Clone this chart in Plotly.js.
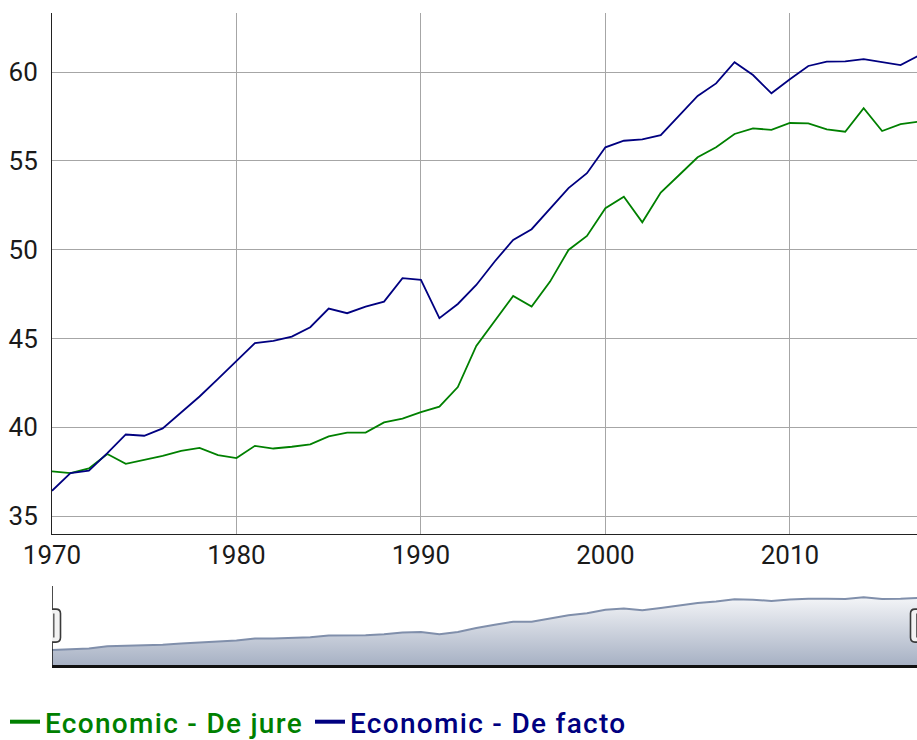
<!DOCTYPE html>
<html>
<head>
<meta charset="utf-8">
<script src="https://cdn.plot.ly/plotly-3.0.1.min.js"></script>
<style>
  html, body { margin: 0; padding: 0; overflow: hidden; background: #fff; }
  #chart { width: 924px; height: 740px; }
  #chart .legend .legendlines path { stroke-width: 4px !important; }
  #chart .legend .legendtext { letter-spacing: 1.3px; }
  #chart .legend .scrollbox { clip-path: none !important; }
</style>
</head>
<body>
<div id="chart"></div>
<script>
const years = [1970,1971,1972,1973,1974,1975,1976,1977,1978,1979,
               1980,1981,1982,1983,1984,1985,1986,1987,1988,1989,
               1990,1991,1992,1993,1994,1995,1996,1997,1998,1999,
               2000,2001,2002,2003,2004,2005,2006,2007,2008,2009,
               2010,2011,2012,2013,2014,2015,2016,2017];

const deJure = [37.51,37.42,37.68,38.49,37.94,38.17,38.39,38.67,38.84,38.43,
                38.26,38.95,38.80,38.90,39.03,39.48,39.70,39.70,40.27,40.49,
                40.85,41.16,42.26,44.58,45.95,47.39,46.79,48.20,49.98,50.77,
                52.33,52.98,51.54,53.21,54.20,55.20,55.76,56.51,56.83,56.74,
                57.13,57.11,56.77,56.64,57.96,56.68,57.06,57.21];

const deFacto = [36.42,37.42,37.56,38.54,39.59,39.52,39.93,40.85,41.73,42.72,
                 43.70,44.73,44.86,45.10,45.63,46.68,46.42,46.79,47.07,48.39,
                 48.30,46.14,46.94,48.01,49.33,50.55,51.15,52.33,53.46,54.30,
                 55.76,56.13,56.21,56.45,57.58,58.65,59.36,60.55,59.83,58.80,
                 59.59,60.34,60.58,60.60,60.73,60.58,60.39,60.93];

const seriesNames = ['Economic - De jure', 'Economic - De facto'];
const tickYears = [1970, 1980, 1990, 2000, 2010];
const tickValues = [35, 40, 45, 50, 55, 60];

// range-selector overview: mean of the series at each year (as the original widget does)
const overview = years.map((y, i) => (deJure[i] + deFacto[i]) / 2);

const GREEN = '#008000';
const NAVY = '#000080';
const FONT = 'Roboto, "DejaVu Sans", sans-serif';

const traces = [
  {
    x: years, y: deJure, type: 'scatter', mode: 'lines',
    name: '<span style="color:' + GREEN + '">' + seriesNames[0] + '</span>',
    line: { color: GREEN, width: 1.8 },
    xaxis: 'x', yaxis: 'y', hoverinfo: 'skip'
  },
  {
    x: years, y: deFacto, type: 'scatter', mode: 'lines',
    name: '<span style="color:' + NAVY + '">' + seriesNames[1] + '</span>',
    line: { color: NAVY, width: 1.8 },
    xaxis: 'x', yaxis: 'y', hoverinfo: 'skip'
  },
  {
    x: years, y: overview, type: 'scatter', mode: 'lines',
    showlegend: false,
    line: { color: '#808FAB', width: 2 },
    fill: 'tozeroy',
    fillcolor: '#c9cfdc',
    fillgradient: {
      type: 'vertical',
      start: 30.6, stop: 63.7,
      colorscale: [[0, '#A7B1C4'], [1, '#ffffff']]
    },
    xaxis: 'x2', yaxis: 'y2', hoverinfo: 'skip'
  }
];

const Y_HANDLE = (740 - 625.6) / 740;
const handlePath = 'M -4,-16.5 L 4,-16.5 Q 8.5,-16.5 8.5,-12 L 8.5,12 Q 8.5,16.5 4,16.5 L -4,16.5 Q -8.5,16.5 -8.5,12 L -8.5,-12 Q -8.5,-16.5 -4,-16.5 Z';
const gripPath = 'M -2.2,-12 L -2.2,12 M 1.8,-12 L 1.8,12';

function handleShapes(xv) {
  return [
    { type: 'line', xref: 'x2', yref: 'paper', x0: xv, x1: xv,
      y0: (740 - 666) / 740, y1: (740 - 586) / 740,
      line: { color: '#111', width: 1.5 } },
    { type: 'path', xref: 'x2', yref: 'paper', xsizemode: 'pixel', ysizemode: 'pixel',
      xanchor: xv, yanchor: Y_HANDLE, path: handlePath,
      fillcolor: '#f2f2f2', line: { color: '#3a3a3a', width: 1.6 } },
    { type: 'path', xref: 'x2', yref: 'paper', xsizemode: 'pixel', ysizemode: 'pixel',
      xanchor: xv, yanchor: Y_HANDLE, path: gripPath,
      line: { color: '#555', width: 1.4 } }
  ];
}

const layout = {
  width: 924, height: 740,
  margin: { l: 52, r: 5, t: 0, b: 0, autoexpand: false },
  paper_bgcolor: '#ffffff', plot_bgcolor: '#ffffff',
  font: { family: FONT, size: 26, color: '#1a1a1a' },
  showlegend: true,
  hovermode: false,
  xaxis: {
    domain: [0, 1], anchor: 'y',
    range: [years[0], years[years.length - 1]],
    tickvals: tickYears, ticktext: tickYears.map(String),
    showgrid: true, gridcolor: '#a6a6a6', gridwidth: 1,
    showline: true, linecolor: '#222', linewidth: 1,
    zeroline: false, ticks: '', ticklabelstandoff: -3,
    automargin: false,
    tickfont: { family: FONT, size: 26, color: '#1a1a1a' }
  },
  yaxis: {
    domain: [(740 - 534.3) / 740, (740 - 12.7) / 740], anchor: 'x',
    range: [33.97, 63.34],
    tickvals: tickValues, ticktext: tickValues.map(String),
    showgrid: true, gridcolor: '#a6a6a6', gridwidth: 1,
    showline: true, linecolor: '#222', linewidth: 1,
    zeroline: false, ticks: '', ticklabelstandoff: 8,
    automargin: false,
    tickfont: { family: FONT, size: 26, color: '#1a1a1a' }
  },
  xaxis2: {
    domain: [0, 1], anchor: 'y2',
    range: [years[0], years[years.length - 1]],
    showticklabels: false, showgrid: false, zeroline: false,
    showline: true, linecolor: '#111', linewidth: 2.5, ticks: '',
    automargin: false
  },
  yaxis2: {
    domain: [(740 - 665) / 740, (740 - 587) / 740], anchor: 'x2',
    range: [30.6, 63.7], visible: false
  },
  legend: {
    orientation: 'h',
    xref: 'container', yref: 'container',
    x: 5 / 924, y: (740 - 722) / 740, xanchor: 'left', yanchor: 'middle',
    font: { family: FONT, size: 28, weight: 500 },
    bgcolor: 'rgba(0,0,0,0)', borderwidth: 0,
    itemwidth: 30, tracegroupgap: 0,
    entrywidth: 260, entrywidthmode: 'pixels'
  },
  shapes: handleShapes(years[0]).concat(handleShapes(years[years.length - 1]))
};

Plotly.newPlot('chart', traces, layout, { displayModeBar: false, staticPlot: true });
</script>
</body>
</html>
